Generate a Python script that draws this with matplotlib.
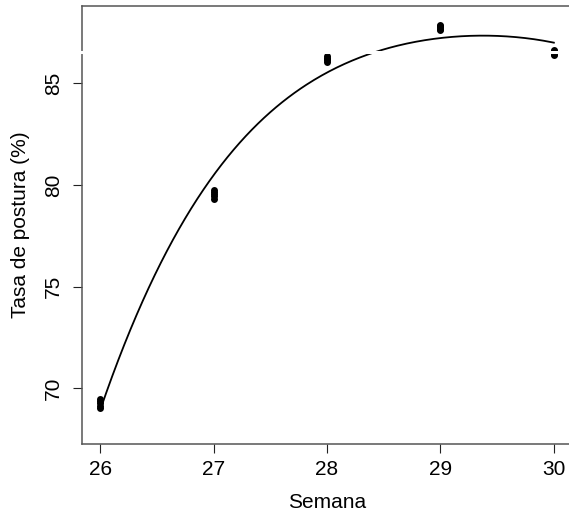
import numpy as np
import matplotlib
matplotlib.use("Agg")
import matplotlib.pyplot as plt
from matplotlib.lines import Line2D

plt.rcParams['font.family'] = ['Liberation Sans', 'DejaVu Sans']

# egg laying rate per week (several records per week)
semanas = [26, 27, 28, 29, 30]
tasa = [
    [69.01, 69.14, 69.26, 69.37, 69.47],
    [79.33, 79.44, 79.53, 79.63, 79.73],
    [86.06, 86.13, 86.19, 86.26, 86.32],
    [87.62, 87.68, 87.75, 87.81, 87.87],
    [86.39, 86.45, 86.52, 86.58, 86.64],
]

# fitted curve readings (week, rate)
curva_x = [26.00, 26.23, 26.82, 27.16, 27.76, 28.40, 29.29, 29.52, 30.00]
curva_y = [68.93, 72.38, 78.93, 81.72, 84.67, 86.48, 87.38, 87.29, 87.00]

W, H = 569, 520
fig = plt.figure(figsize=(W / 100, H / 100), dpi=100)
ax = fig.add_axes([82 / W, (H - 444) / H, 490 / W, 438 / H])

# smooth the fitted line through the readings
coef = np.polyfit(curva_x, curva_y, 4)
xs = np.linspace(curva_x[0], curva_x[-1], 300)
ax.plot(xs, np.polyval(coef, xs), color='black', lw=1.3, zorder=3)

for s, vals in zip(semanas, tasa):
    ax.plot([s] * len(vals), vals, 'o', color='black', ms=5.0, mew=0, zorder=4)

ax.set_xlim(25.84, 30.16)
ax.set_ylim(67.26, 88.80)
ax.set_xticks(semanas)
ax.set_yticks([70, 75, 80, 85])
ax.tick_params(axis='both', direction='out', length=6.3, width=0.8,
               color='#222222', labelsize=15)
ax.tick_params(axis='x', pad=5.3)
ax.tick_params(axis='y', pad=7.2)
for lab in ax.get_yticklabels():
    lab.set_rotation(90)
    lab.set_va('center')

for sp in ax.spines.values():
    sp.set_color('#555555')
    sp.set_linewidth(1.1)

fig.text(327 / W, (H - 503) / H, 'Semana', fontsize=15, ha='center', va='center')
fig.text(21 / W, (H - 225) / H, 'Tasa de postura (%)', fontsize=15,
         ha='center', va='center', rotation=90)

# thin white break across the upper plot area
fig.add_artist(Line2D([70 / W, 1.0], [(H - 51.5) / H] * 2, color='white',
                      lw=2.2, transform=fig.transFigure, zorder=10))

fig.savefig('out.png', dpi=100)
